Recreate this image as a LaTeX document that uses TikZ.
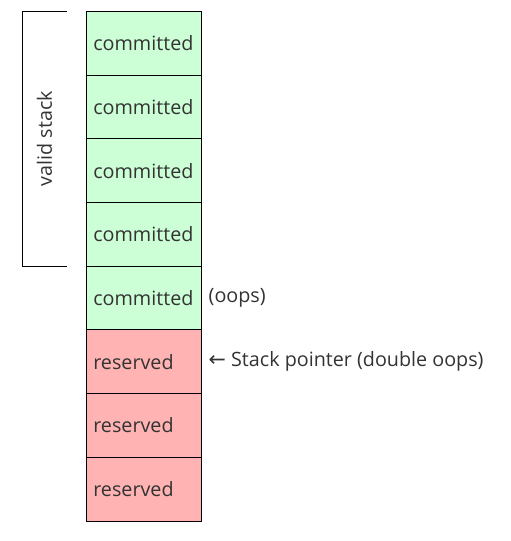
\documentclass[tikz,border=0pt]{standalone}
\usepackage{fontspec}
\setmainfont{Open Sans}
\newfontfamily\arrowfont{DejaVu Sans}
\usetikzlibrary{positioning, calc}
\definecolor{commitgreen}{HTML}{CCFFD6}
\definecolor{reservedred}{HTML}{FFB3B3}
\definecolor{textgray}{HTML}{333333}
\begin{document}
\begin{tikzpicture}[x=0.75pt, y=-0.75pt,
      cell/.style={draw, line width=0.75pt, outer sep=0pt, minimum width=86.25pt, minimum height=47.8pt,
                   text width=76pt, align=left, inner sep=5pt, font=\fontsize{14.8}{17}\selectfont, text=textgray},
      committed/.style={cell, fill=commitgreen},
      reserved/.style={cell, fill=reservedred},
      note/.style={font=\fontsize{14.8}{17}\selectfont, text=textgray, inner sep=2pt},
      bracket/.style={line width=0.75pt}
    ]
    \useasboundingbox (0,0) rectangle (510,541);
    \node[committed, anchor=north west] (c1) at (86.5,11.3) {committed};
    \node[committed, below=0pt of c1] (c2) {committed};
    \node[committed, below=0pt of c2] (c3) {committed};
    \node[committed, below=0pt of c3] (c4) {committed};
    \node[committed, below=0pt of c4] (c5) {committed};
    \node[reserved, below=0pt of c5] (r1) {reserved};
    \node[reserved, below=0pt of r1] (r2) {reserved};
    \node[reserved, below=0pt of r2] (r3) {reserved};
    % notes
    \node[note, right=3.2pt of c5] (oops) {(oops)};
    \node[note, right=3.2pt of r1] (sp) {{\arrowfont\fontsize{15.5}{17}\selectfont ←} Stack pointer (double oops)};
    % bracket round the valid stack
    \coordinate[left=15pt of c1.north west] (btop);
    \coordinate[left=15pt of c4.south west] (bbot);
    \draw[bracket] (btop) -- ++(-33.3pt,0) |- (bbot);
    \node[note, rotate=90] (valid) at ($(btop)!0.5!(bbot)+(-22,0)$) {valid stack};
  \end{tikzpicture}
\end{document}
